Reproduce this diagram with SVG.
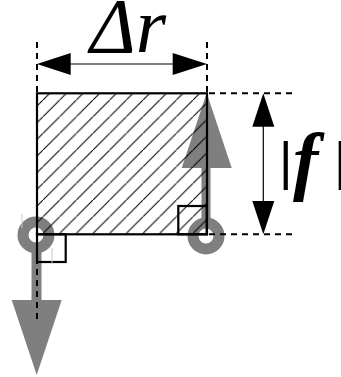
<svg xmlns="http://www.w3.org/2000/svg" width="341" height="377" viewBox="0 0 341 377">
  <style>
    .gray { fill: #7f7f7f; stroke: none; }
    .ring { fill: none; stroke: #7f7f7f; stroke-width: 11; }
    .dash { stroke: #000; stroke-width: 2; stroke-dasharray: 6 5; fill: none; }
    .dim { stroke: #000; stroke-width: 1.2; fill: none; }
    .head { fill: #000; stroke: none; }
    .edge { fill: none; stroke: #000; stroke-width: 2.2; }
    .tick { stroke: #c8c8c8; stroke-width: 1; }
    .math { font-family: "Liberation Serif", "DejaVu Serif", serif; font-style: italic; }
    .bar { font-family: "Liberation Sans", "DejaVu Sans", sans-serif; }
  </style>
  <defs>
    <pattern id="hatch" patternUnits="userSpaceOnUse" x="9.67" y="0" width="16.67" height="16.67">
      <path d="M-1,17.67 L17.67,-1" stroke="#000" stroke-width="1"/>
    </pattern>
  </defs>
  <rect width="341" height="377" fill="#fff"/>

  <g id="force-down">
    <circle class="ring" cx="36" cy="235" r="13"/>
    <rect class="gray" x="31.5" y="245" width="10" height="56"/>
    <polygon class="gray" points="11.7,300 61.7,300 36.7,375"/>
  </g>
  <g id="force-up">
    <circle class="ring" cx="206" cy="236" r="13"/>
    <rect class="gray" x="201.5" y="166" width="9" height="60"/>
    <polygon class="gray" points="181.7,168 231.7,168 206.7,93"/>
  </g>

  <g id="element">
    <rect x="37" y="93.3" width="170" height="141" fill="url(#hatch)"/>
    <rect class="edge" x="37" y="93.3" width="170" height="141"/>
    <rect class="edge" x="178.3" y="206" width="28.4" height="28.3"/>
    <rect class="edge" x="37" y="234.3" width="28.7" height="27.7"/>
  </g>

  <g id="ticks">
    <line class="tick" x1="22" y1="214" x2="22" y2="228"/>
    <line class="tick" x1="52" y1="248" x2="52" y2="264"/>
  </g>

  <g id="connectors">
    <line class="dash" x1="37" y1="42" x2="37" y2="93"/>
    <line class="dash" x1="207" y1="42" x2="207" y2="93"/>
    <line class="dash" x1="209" y1="93.3" x2="292" y2="93.3"/>
    <line class="dash" x1="209" y1="234.3" x2="292" y2="234.3"/>
    <line class="dash" x1="37" y1="236" x2="37" y2="320"/>
    <line class="dim" x1="60" y1="64" x2="185" y2="64"/>
    <polygon class="head" points="37,64 70.7,53 70.7,75"/>
    <polygon class="head" points="207,64 172.7,53 172.7,75"/>
    <line class="dim" x1="263.3" y1="115" x2="263.3" y2="212"/>
    <polygon class="head" points="263.3,93.3 252.3,126.7 274.3,126.7"/>
    <polygon class="head" points="263.3,234.3 252.3,200.9 274.3,200.9"/>
  </g>

  <g id="labels">
    <text class="math" x="90" y="52" font-size="78">Δr</text>
    <text class="bar" x="279" y="179" font-size="52">|</text>
    <text class="math" x="293" y="186" font-weight="bold" font-size="76">f</text>
    <text class="bar" x="334" y="179" font-size="52">|</text>
  </g>
</svg>
